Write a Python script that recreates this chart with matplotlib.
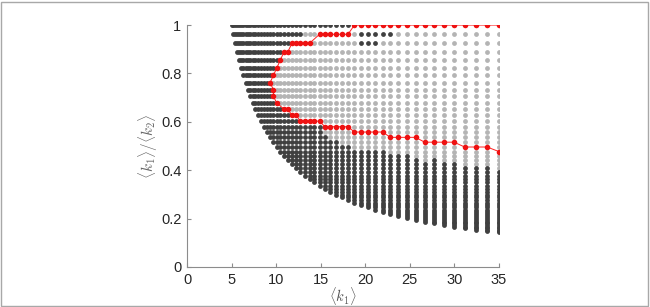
import matplotlib
matplotlib.use("Agg")
import matplotlib.pyplot as plt
from matplotlib.patches import Rectangle

# grid of <k1> values (columns) and <k1>/<k2> values (rows); column i holds rows 0..i
x_cols = [5.000, 5.198, 5.405, 5.619, 5.842, 6.074, 6.315, 6.566, 6.826, 7.097,
          7.379, 7.672, 7.976, 8.293, 8.622, 8.965, 9.320, 9.690, 10.075, 10.475,
          10.891, 11.322, 11.772, 12.239, 12.725, 13.230, 13.754, 14.300, 14.868, 15.458,
          16.071, 16.709, 17.372, 18.062, 18.779, 19.523, 20.298, 21.104, 21.941, 22.812,
          23.717, 24.658, 25.637, 26.654, 27.712, 28.812, 29.955, 31.144, 32.380, 33.665,
          35.000]
y_rows = [1.000, 0.962, 0.925, 0.890, 0.856, 0.823, 0.792, 0.762, 0.733, 0.705,
          0.678, 0.652, 0.627, 0.603, 0.580, 0.558, 0.536, 0.516, 0.496, 0.477,
          0.459, 0.442, 0.425, 0.409, 0.393, 0.378, 0.364, 0.350, 0.336, 0.323,
          0.311, 0.299, 0.288, 0.277, 0.266, 0.256, 0.246, 0.237, 0.228, 0.219,
          0.211, 0.203, 0.195, 0.188, 0.180, 0.174, 0.167, 0.161, 0.154, 0.149,
          0.143]

# light-grey band per column (row index range, -1 = none)
light_top = [-1] * 17 + [7, 6, 5, 4, 4, 3, 3, 3, 1, 1, 1, 2, 2, 2, 2, 2, 2] + [1] * 17
light_bot = [-1] * 17 + [7, 9, 10, 10, 10, 11, 11, 12, 12, 12, 12, 12, 15, 16, 16, 17, 17,
                         18, 18, 18, 18, 18, 19, 19, 19, 20, 21, 20, 21, 21, 22, 22, 22, 23]

# dark points inside the light band
speck_row = [1, 1, 1, 1, 1, 2, 2, 2]
speck_col = [35, 36, 37, 38, 39, 35, 36, 37]

# red boundary, as runs along rows (row, first column, last column)
red_run_row = [0, 1, 2, 3, 4, 5, 6, 7, 8, 9, 10, 11, 12, 13, 14, 15, 16, 17, 18, 19]
red_run_first = [50, 33, 26, 21, 19, 18, 17, 16, 17, 17, 18, 20, 22, 24, 29, 34, 39, 43, 47, 50]
red_run_last = [34, 28, 22, 20, 19, 18, 17, 16, 17, 17, 18, 21, 23, 28, 33, 38, 42, 46, 49, 50]

plt.rcParams["font.family"] = ["Liberation Sans", "DejaVu Sans"]
plt.rcParams["mathtext.fontset"] = "cm"

status = {}
for i in range(len(x_cols)):
    for j in range(i + 1):
        s = "dark"
        if light_top[i] >= 0 and light_top[i] <= j <= light_bot[i]:
            s = "light"
        status[(i, j)] = s
for r, c in zip(speck_row, speck_col):
    status[(c, r)] = "dark"

red_x, red_y = [], []
for r, a, b in zip(red_run_row, red_run_first, red_run_last):
    step = 1 if b >= a else -1
    for c in range(a, b + step, step):
        red_x.append(x_cols[c])
        red_y.append(y_rows[r])
        status[(c, r)] = "red"

dark_x = [x_cols[i] for (i, j), s in status.items() if s == "dark"]
dark_y = [y_rows[j] for (i, j), s in status.items() if s == "dark"]
light_x = [x_cols[i] for (i, j), s in status.items() if s == "light"]
light_y = [y_rows[j] for (i, j), s in status.items() if s == "light"]

fig = plt.figure(figsize=(6.5, 3.07), dpi=100)
ax = fig.add_axes([0.2877, 0.1303, 0.48, 0.788])

ax.scatter(light_x, light_y, s=12, color="#b4b4b4", linewidths=0, zorder=2)
ax.scatter(dark_x, dark_y, s=12, color="#404040", linewidths=0, zorder=2)
ax.plot(red_x, red_y, color="#ff2020", lw=0.7, zorder=3)
ax.scatter(red_x, red_y, s=16, color="#ee1111", linewidths=0, zorder=4)

ax.set_xlim(0, 35)
ax.set_ylim(0, 1)
ax.set_xticks(range(0, 36, 5))
ax.set_yticks([0, 0.2, 0.4, 0.6, 0.8, 1])
ax.set_yticklabels(["0", "0.2", "0.4", "0.6", "0.8", "1"])
for side in ["top", "right"]:
    ax.spines[side].set_visible(False)
for side in ["left", "bottom"]:
    ax.spines[side].set_color("#8c8c8c")
    ax.spines[side].set_linewidth(0.8)
ax.tick_params(direction="in", length=3, width=0.8, color="#8c8c8c",
               labelcolor="#262626", labelsize=10.5, pad=4)
ax.set_xlabel(r"$\langle k_1\rangle$", fontsize=10.5, color="#555555")
ax.xaxis.set_label_coords(0.5, -0.075)
ax.set_ylabel(r"$\langle k_1\rangle/\langle k_2\rangle$", fontsize=11, color="#666666", labelpad=1)

fig.patches.append(Rectangle((0.002, 0.004), 0.995, 0.99, transform=fig.transFigure,
                             fill=False, edgecolor="#a8a8a8", lw=1))

fig.savefig("out.png", dpi=100)
